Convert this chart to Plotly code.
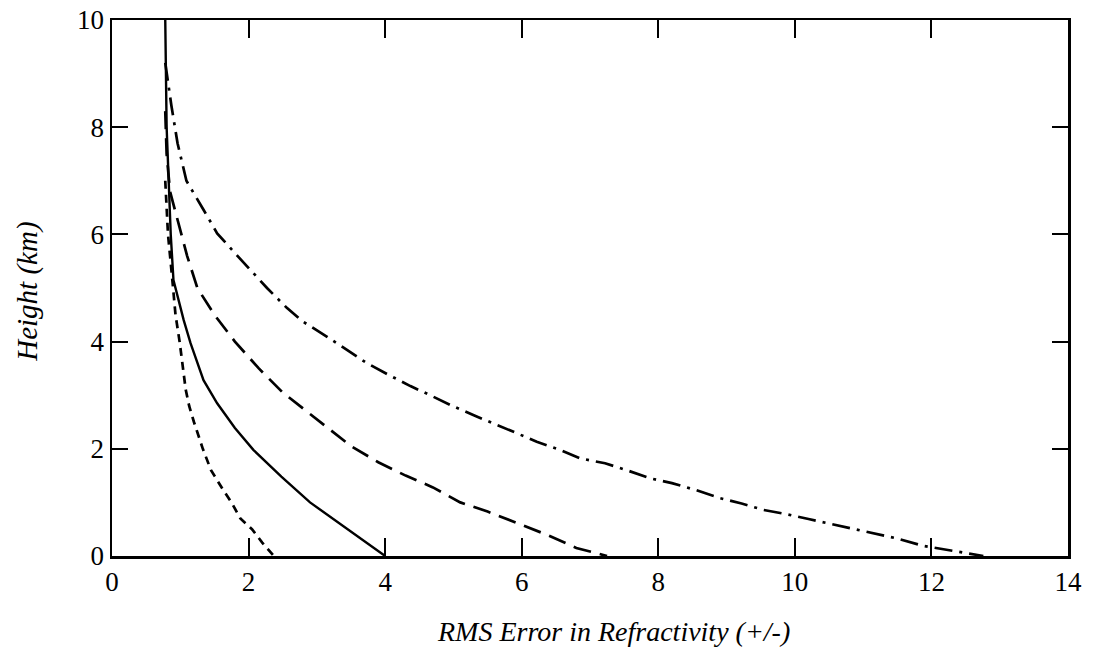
import plotly.graph_objects as go

# Solid curve
solid_x = [0.78, 0.79, 0.80, 0.83, 0.86, 0.90, 1.05, 1.15, 1.34, 1.54, 1.80, 2.07, 2.48, 2.90, 3.45, 4.00]
solid_y = [10.0, 9.0, 8.0, 7.0, 6.0, 5.15, 4.40, 3.97, 3.28, 2.85, 2.39, 1.98, 1.48, 1.00, 0.50, 0.0]

# Short-dash curve
sdash_x = [0.78, 0.82, 0.88, 0.93, 0.99, 1.04, 1.08, 1.13, 1.20, 1.33, 1.45, 1.62, 1.75, 1.88, 2.05, 2.20, 2.37]
sdash_y = [7.0, 6.0, 5.2, 4.5, 4.0, 3.5, 3.1, 2.8, 2.5, 2.0, 1.6, 1.25, 1.0, 0.7, 0.5, 0.25, 0.0]

# Long-dash curve
ldash_x = [0.78, 0.80, 0.85, 0.97, 1.10, 1.25, 1.50, 1.80, 2.15, 2.50, 2.85, 3.20, 3.50, 3.90, 4.30, 4.70, 5.10, 5.50, 5.95, 6.40, 6.80, 7.25]
ldash_y = [8.3, 7.5, 6.8, 6.2, 5.6, 5.0, 4.5, 4.0, 3.5, 3.05, 2.7, 2.35, 2.05, 1.75, 1.5, 1.28, 1.0, 0.83, 0.6, 0.38, 0.15, 0.0]

# Dash-dot curve
dd_x = [0.78, 0.87, 0.96, 1.09, 1.34, 1.54, 1.78, 2.02, 2.27, 2.56, 2.80, 3.15, 3.44, 3.73, 4.02, 4.37, 4.66,
        4.95, 5.29, 5.56, 5.93, 6.22, 6.56, 6.86, 7.22, 7.54, 7.88, 8.20, 8.55, 8.90, 9.22, 9.54, 9.88, 10.20,
        10.52, 10.85, 11.17, 11.49, 11.88, 12.10, 12.76]
dd_y = [9.2, 8.4, 7.7, 7.0, 6.46, 6.02, 5.68, 5.34, 5.0, 4.63, 4.37, 4.09, 3.84, 3.6, 3.4, 3.17, 3.0,
        2.82, 2.63, 2.49, 2.29, 2.13, 1.98, 1.82, 1.73, 1.6, 1.45, 1.36, 1.23, 1.08, 0.98, 0.86, 0.78, 0.69,
        0.6, 0.5, 0.41, 0.33, 0.19, 0.14, 0.0]

x_ticks = [0, 2, 4, 6, 8, 10, 12, 14]
y_ticks = [0, 2, 4, 6, 8, 10]
x_title = "<i>RMS Error in Refractivity (+/-)</i>"
y_title = "<i>Height (km)</i>"

SERIF = "Liberation Serif, Times New Roman, serif"

fig = go.Figure()
fig.add_trace(go.Scatter(x=solid_x, y=solid_y, mode="lines",
                         line=dict(color="black", width=2.4), showlegend=False))
fig.add_trace(go.Scatter(x=sdash_x, y=sdash_y, mode="lines",
                         line=dict(color="black", width=2.7, dash="8px,6px"), showlegend=False))
fig.add_trace(go.Scatter(x=ldash_x, y=ldash_y, mode="lines",
                         line=dict(color="black", width=2.7, dash="18px,9px"), showlegend=False))
fig.add_trace(go.Scatter(x=dd_x, y=dd_y, mode="lines",
                         line=dict(color="black", width=2.7, dash="18px,7px,3px,7px"), showlegend=False))

axis_common = dict(ticks="inside", tickwidth=2, tickcolor="black",
                   showline=True, linewidth=2.5, linecolor="black", mirror="ticks",
                   showgrid=False, zeroline=False, automargin=False,
                   ticklabeloverflow="allow",
                   tickfont=dict(family=SERIF, size=27, color="black"))

fig.update_layout(
    width=1094, height=649,
    margin=dict(l=112, r=26, t=20, b=93),
    paper_bgcolor="white", plot_bgcolor="white",
    font=dict(family=SERIF, size=27, color="black"),
    xaxis=dict(range=[0, 14], tickvals=x_ticks, ticktext=[str(v) for v in x_ticks],
               ticklen=18, **axis_common),
    yaxis=dict(range=[0, 10], tickvals=y_ticks, ticktext=[str(v) for v in y_ticks],
               ticklen=16, **axis_common),
    annotations=[
        dict(text=x_title, xref="paper", yref="paper", x=0.525, y=0, xanchor="center", yanchor="top",
             yshift=-58, showarrow=False, font=dict(family=SERIF, size=28, color="black")),
        dict(text=y_title, xref="paper", yref="paper", x=0, y=0.493, xanchor="center", yanchor="middle",
             xshift=-84, textangle=-90, showarrow=False, font=dict(family=SERIF, size=29, color="black")),
    ],
)

fig.write_html("out.html", config={"displayModeBar": False, "staticPlot": True},
               post_script="document.body.style.margin='0';")
